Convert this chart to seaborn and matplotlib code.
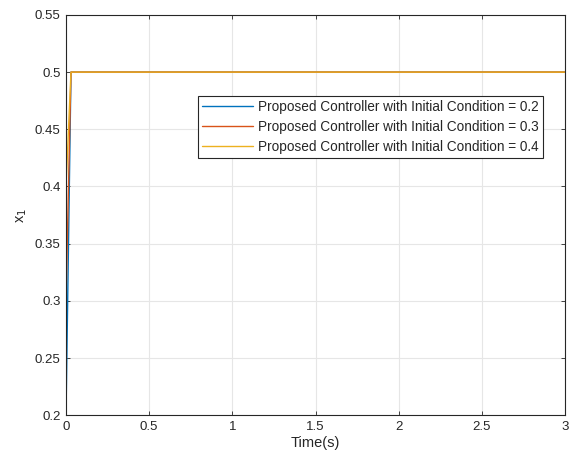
import numpy as np
import pandas as pd
import seaborn as sns
import matplotlib.pyplot as plt

# time samples (s) and response x1 for the three initial conditions
time = [0.0, 0.01, 0.02, 0.03, 0.5, 1.0, 1.5, 2.0, 2.5, 3.0]
x1_ic02 = [0.2, 0.30, 0.40, 0.5, 0.5, 0.5, 0.5, 0.5, 0.5, 0.5]
x1_ic03 = [0.3, 0.367, 0.433, 0.5, 0.5, 0.5, 0.5, 0.5, 0.5, 0.5]
x1_ic04 = [0.4, 0.433, 0.467, 0.5, 0.5, 0.5, 0.5, 0.5, 0.5, 0.5]
labels = ['Proposed Controller with Initial Condition = 0.2',
          'Proposed Controller with Initial Condition = 0.3',
          'Proposed Controller with Initial Condition = 0.4']
colors = ['#0072BD', '#D95319', '#EDB120']

frames = []
for lab, vals in zip(labels, [x1_ic02, x1_ic03, x1_ic04]):
    frames.append(pd.DataFrame({'time': time, 'x1': vals, 'case': lab}))
df = pd.concat(frames, ignore_index=True)

sns.set_style('whitegrid')
plt.rcParams['font.family'] = ['Liberation Sans', 'DejaVu Sans']

fig = plt.figure(figsize=(5.69, 4.66), dpi=100)
ax = fig.add_axes([0.116, 0.109, 0.877, 0.859])
sns.lineplot(data=df, x='time', y='x1', hue='case', palette=colors,
             linewidth=1.0, ax=ax)

ax.set_xlim(0, 3)
ax.set_ylim(0.2, 0.55)
ax.set_xticks([0, 0.5, 1, 1.5, 2, 2.5, 3])
ax.set_xticklabels(['0', '0.5', '1', '1.5', '2', '2.5', '3'])
ax.set_yticks([0.2, 0.25, 0.3, 0.35, 0.4, 0.45, 0.5, 0.55])
ax.set_yticklabels(['0.2', '0.25', '0.3', '0.35', '0.4', '0.45', '0.5', '0.55'])
ax.tick_params(labelsize=9.5, colors='#262626', direction='in', length=3,
               width=0.6, top=True, right=True, bottom=True, left=True, pad=4)
ax.grid(True, color='#e6e6e6', linewidth=0.8)
for s in ax.spines.values():
    s.set_color('#262626')
    s.set_linewidth(0.8)
ax.set_xlabel('Time(s)', fontsize=10.5, color='#262626', labelpad=2)
ax.set_ylabel('x$_1$', fontsize=10.5, color='#262626', labelpad=4)

leg = ax.legend(loc='upper right', bbox_to_anchor=(0.956, 0.797),
                fontsize=9.8, frameon=True, fancybox=False, handlelength=3.7,
                borderpad=0.3, labelspacing=0.42, handletextpad=0.4,
                borderaxespad=0)
leg.get_frame().set_edgecolor('#262626')
leg.get_frame().set_linewidth(0.8)
leg.get_frame().set_alpha(1)

fig.savefig('out.png', dpi=100)
